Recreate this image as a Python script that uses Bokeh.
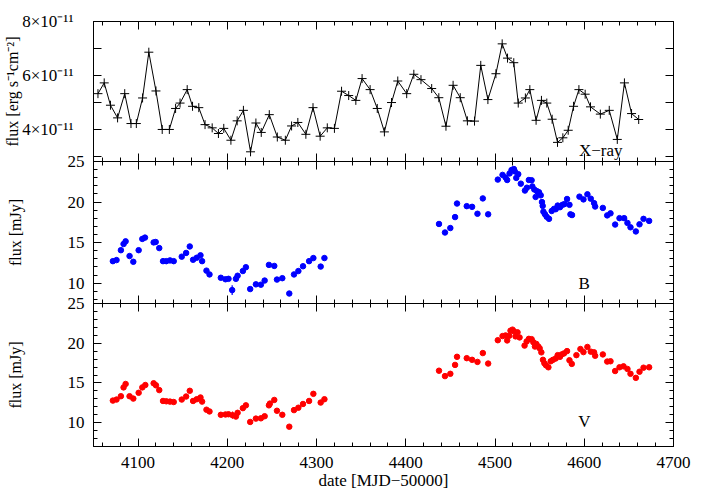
from bokeh.plotting import figure
from bokeh.models import LinearAxis, FixedTicker, Label, Range1d
from bokeh.layouts import column
from bokeh.embed import file_html
from bokeh.resources import INLINE
import numpy as np

FONT = "Liberation Serif"

# X-ray flux, units of 1e-11 erg s^-1 cm^-2
xray_date = [4055, 4062, 4069, 4077, 4085, 4092, 4098, 4105, 4112, 4120, 4127, 4135, 4142, 4147,
             4155, 4161, 4168, 4175, 4183, 4190, 4196, 4204, 4211, 4218, 4226, 4232, 4238, 4247,
             4256, 4265, 4272, 4279, 4288, 4296, 4304, 4312, 4320, 4328, 4336, 4344, 4351, 4360,
             4368, 4376, 4384, 4391, 4401, 4409, 4417, 4429, 4437, 4445, 4453, 4461, 4469, 4477,
             4484, 4492, 4501, 4508, 4514, 4521, 4526, 4534, 4539, 4546, 4552, 4558, 4564, 4570,
             4576, 4582, 4588, 4594, 4601, 4607, 4618, 4628, 4637, 4645, 4653, 4661]
xray_flux = [5.32, 5.72, 4.89, 4.42, 5.32, 4.21, 4.21, 5.16, 6.86, 5.42, 3.99, 3.99, 4.77, 4.97,
             5.47, 4.85, 4.80, 4.17, 4.05, 3.84, 4.03, 3.59, 4.31, 4.70, 3.16, 4.23, 3.88, 4.54,
             3.71, 3.59, 4.12, 4.25, 3.81, 4.80, 3.74, 4.05, 4.03, 5.41, 5.25, 5.07, 5.88, 5.47,
             4.77, 3.90, 4.99, 5.79, 5.32, 6.04, 5.84, 5.51, 5.17, 4.11, 5.63, 5.17, 4.31, 4.30,
             6.37, 5.10, 6.06, 7.17, 6.64, 6.47, 4.97, 5.16, 5.47, 4.33, 5.07, 4.97, 4.37, 3.51,
             3.68, 3.96, 4.85, 5.47, 5.30, 4.83, 4.56, 4.70, 3.62, 5.72, 4.58, 4.36]

# B band flux [mJy]
b_date = [4071.7, 4075.8, 4080.7, 4083.7, 4086.0, 4090.4, 4094.6, 4100.6, 4104.7, 4107.7, 4117.4,
          4119.7, 4123.7, 4127.9, 4131.6, 4135.7, 4139.9, 4148.9, 4153.8, 4157.9, 4161.6, 4165.7,
          4169.9, 4171.7, 4176.6, 4180.0, 4192.7, 4197.9, 4201.3, 4205.4, 4209.6, 4211.5, 4217.4,
          4220.8, 4225.6, 4232.0, 4237.6, 4241.8, 4246.6, 4252.6, 4255.6, 4261.6, 4269.4, 4274.7,
          4279.6, 4284.8, 4291.6, 4296.4, 4304.6, 4308.8,
          4437.2, 4443.9, 4449.9, 4455.2, 4457.4, 4468.3, 4474.3, 4480.3, 4486.3, 4492.3, 4503.1,
          4508.4, 4511.8, 4513.6, 4516.3, 4518.5, 4521.1, 4522.2, 4523.8, 4526.0, 4528.9, 4533.5,
          4535.7, 4537.9, 4541.0, 4541.8, 4544.0, 4545.5, 4547.0, 4549.3, 4551.2, 4552.6, 4553.4,
          4554.2, 4556.0, 4557.9, 4560.5, 4563.5, 4566.1, 4568.0, 4570.2, 4572.8, 4575.5, 4577.8,
          4580.7, 4583.4, 4584.5, 4586.3, 4594.6, 4599.1, 4603.5, 4607.3, 4611.0, 4612.2, 4620.8,
          4625.7, 4629.4, 4634.6, 4639.5, 4644.7, 4648.4, 4651.8, 4657.8, 4661.9, 4666.4, 4672.7]
b_flux = [12.72, 12.85, 14.07, 14.83, 15.16, 13.35, 12.64, 14.07, 15.46, 15.62, 15.03,
          15.08, 14.33, 12.72, 12.72, 12.81, 12.72, 13.27, 13.73, 14.53, 12.89, 13.14,
          13.44, 12.72, 11.55, 11.08, 10.67, 10.49, 10.54, 9.15, 10.54, 10.92, 11.50,
          11.97, 9.28, 9.86, 9.82, 10.33, 12.26, 12.13, 10.45, 10.62, 8.73, 11.08,
          11.50, 12.09, 12.72, 13.10, 12.05, 13.10,
          17.30, 16.25, 16.80, 18.15, 19.82, 19.50, 19.41, 18.56, 20.45, 18.49, 22.77,
          23.35, 23.03, 22.72, 23.53, 23.95, 24.07, 23.78, 22.98, 23.44, 22.27, 21.42,
          21.77, 22.72, 22.69, 21.93, 21.55, 20.63, 21.34, 21.21, 20.83, 20.00, 19.53,
          18.82, 18.49, 18.18, 17.93, 18.90, 19.16, 19.12, 19.57, 19.37, 19.66, 19.75,
          20.38, 19.66, 18.49, 18.40, 20.67, 20.33, 20.96, 20.42, 19.87, 19.45, 19.28,
          18.36, 18.61, 17.23, 18.02, 18.02, 17.43, 16.89, 16.38, 17.26, 17.93, 17.68]
b_err_date = [4205.4]
b_err_flux = [9.15]
b_err = [0.6]

# V band flux [mJy]
v_date = [4071.7, 4075.8, 4080.7, 4083.7, 4086.0, 4090.4, 4094.6, 4100.6, 4104.7, 4108.1, 4117.4,
          4120.0, 4123.7, 4127.9, 4131.6, 4135.7, 4139.9, 4148.9, 4153.8, 4157.9, 4161.6, 4165.7,
          4169.9, 4171.7, 4176.6, 4180.0, 4192.7, 4197.9, 4201.3, 4205.8, 4209.6, 4211.5, 4217.4,
          4220.8, 4225.6, 4232.0, 4237.6, 4241.8, 4246.6, 4247.7, 4252.6, 4255.6, 4261.6, 4269.4,
          4274.7, 4279.6, 4284.8, 4291.6, 4296.4, 4304.6, 4308.8,
          4437.2, 4443.9, 4449.9, 4455.2, 4457.4, 4468.3, 4474.3, 4480.3, 4486.3, 4492.3, 4503.1,
          4508.4, 4511.8, 4513.6, 4515.9, 4517.3, 4519.6, 4521.1, 4523.0, 4525.2, 4527.5, 4533.1,
          4535.4, 4537.9, 4541.0, 4542.9, 4544.7, 4546.3, 4548.5, 4550.0, 4551.9, 4553.7, 4555.3,
          4557.1, 4559.8, 4562.4, 4564.9, 4568.0, 4570.2, 4572.8, 4574.7, 4577.3, 4580.7, 4583.4,
          4586.0, 4591.2, 4595.7, 4599.1, 4603.5, 4607.3, 4611.0, 4612.2, 4620.8, 4625.7, 4629.4,
          4634.6, 4639.5, 4644.0, 4648.4, 4651.8, 4657.8, 4661.9, 4666.4, 4672.7]
v_flux = [12.78, 12.91, 13.33, 14.44, 14.87, 13.33, 13.03, 13.76, 14.44, 14.74, 14.96,
          14.70, 14.10, 12.73, 12.69, 12.65, 12.60, 12.91, 13.29, 14.01, 12.73, 12.95,
          13.17, 12.65, 11.63, 11.41, 10.99, 11.03, 11.06, 10.94, 10.77, 11.24, 11.83,
          12.18, 10.09, 10.51, 10.55, 10.81, 12.18, 12.40, 12.86, 11.50, 10.99, 9.49,
          11.58, 11.88, 12.35, 12.73, 13.63, 12.53, 12.95,
          16.54, 15.86, 16.15, 17.27, 18.29, 18.12, 17.91, 17.65, 18.76, 17.44, 20.38,
          20.90, 20.98, 20.35, 20.94, 21.58, 21.71, 21.50, 20.86, 21.37, 20.73, 19.70,
          20.22, 20.55, 20.51, 20.13, 19.58, 19.91, 19.58, 19.36, 18.85, 17.91, 17.48,
          17.22, 16.97, 17.73, 17.91, 18.08, 18.50, 18.29, 18.59, 18.72, 19.01, 17.86,
          17.40, 18.50, 19.27, 18.88, 19.53, 18.94, 18.85, 18.42, 18.59, 17.69, 17.73,
          16.50, 16.97, 17.09, 16.76, 16.15, 15.64, 16.41, 16.92, 16.97]
v_err_date = [4205.8]
v_err_flux = [10.94]
v_err = [0.45]

x_major = [4100, 4200, 4300, 4400, 4500, 4600, 4700]
x_minor = list(range(4060, 4701, 20))
xray_ticks = [3, 4, 5, 6, 7, 8]
xray_tick_labels = {3: "", 4: "4×10⁻¹¹", 5: "", 6: "6×10⁻¹¹", 7: "", 8: "8×10⁻¹¹"}
mjy_major = [10, 15, 20, 25]
mjy_minor = list(range(7, 26))

x_range = Range1d(4050, 4700)
FW = 580
GAP = 12  # fixed border above / below the inner panel edges, overlapped away
LEFT = 93


def style_axis(ax, labels=False, size="17px"):
    ax.major_tick_in = 8
    ax.major_tick_out = 0
    ax.minor_tick_in = 4
    ax.minor_tick_out = 0
    ax.major_tick_line_color = "black"
    ax.minor_tick_line_color = "black"
    ax.axis_line_color = "black"
    ax.major_label_text_font = FONT
    ax.axis_label_text_font = FONT
    ax.axis_label_text_font_style = "normal"
    ax.axis_label_text_color = "black"
    if labels:
        ax.major_label_text_font_size = size
        ax.major_label_text_color = "black"
    else:
        ax.major_label_text_color = None
        ax.major_label_standoff = 0
        ax.axis_label = None


def make_panel(y0, y1, fh, top, bottom, yticker, ylabel, ystandoff, lblstandoff, overrides=None,
               xlabels=False):
    p = figure(output_backend="svg", toolbar_location=None, frame_width=FW, frame_height=fh,
               x_range=x_range, y_range=Range1d(y0, y1), x_axis_location=None,
               y_axis_location=None, min_border_left=LEFT, min_border_right=20,
               min_border_top=top, min_border_bottom=bottom)
    p.grid.grid_line_color = None
    p.outline_line_color = "black"
    p.outline_line_width = 1
    p.background_fill_color = "white"
    p.border_fill_color = None
    xt = FixedTicker(ticks=x_major, minor_ticks=x_minor)
    la = LinearAxis(ticker=yticker, axis_label=ylabel)
    style_axis(la, labels=True)
    la.major_label_standoff = ystandoff
    la.axis_label_standoff = lblstandoff
    la.axis_label_text_font_size = "16px"
    if overrides:
        la.major_label_overrides = overrides
    p.add_layout(la, "left")
    ra = LinearAxis(ticker=yticker)
    style_axis(ra)
    p.add_layout(ra, "right")
    ta = LinearAxis(ticker=xt)
    style_axis(ta)
    p.add_layout(ta, "above")
    ba = LinearAxis(ticker=xt)
    if xlabels:
        style_axis(ba, labels=True)
        ba.major_label_standoff = 10
        ba.axis_label = "date [MJD−50000]"
        ba.axis_label_standoff = 0
        ba.axis_label_text_font_size = "17px"
    else:
        style_axis(ba)
    p.add_layout(ba, "below")
    return p


p1 = make_panel(2.8, 8.0, 140, 21, GAP, FixedTicker(ticks=xray_ticks, minor_ticks=[]),
                "flux [erg s⁻¹cm⁻²]", 20, -2, overrides=xray_tick_labels)
p1.line(xray_date, xray_flux, line_color="black", line_width=1)
p1.scatter(xray_date, xray_flux, marker="cross", size=9, line_color="black", line_width=1)
p1.add_layout(Label(x=4594, y=3.2, text="X−ray", text_baseline="middle", text_font=FONT,
                    text_font_size="17px", text_color="black"))

p2 = make_panel(7.5, 25, 142, GAP, GAP, FixedTicker(ticks=mjy_major, minor_ticks=mjy_minor),
                "flux [mJy]", 9, 41)
p2.margin = (-2 * GAP, 0, 0, 0)
bd = np.array(b_err_date); bf = np.array(b_err_flux); be = np.array(b_err)
p2.segment(bd, bf - be, bd, bf + be, line_color="#0000ff", line_width=1.2)
p2.scatter(b_date, b_flux, size=5.5, fill_color="#0000ff", line_color="#0000ff")
p2.add_layout(Label(x=4600, y=10, text="B", text_align="center", text_baseline="middle",
                    text_font=FONT, text_font_size="17px", text_color="black"))

p3 = make_panel(7, 25, 143, GAP, 44, FixedTicker(ticks=mjy_major, minor_ticks=mjy_minor),
                "flux [mJy]", 9, 41, xlabels=True)
p3.margin = (-2 * GAP, 0, 0, 0)
vd = np.array(v_err_date); vf = np.array(v_err_flux); ve = np.array(v_err)
p3.segment(vd, vf - ve, vd, vf + ve, line_color="#ff0000", line_width=1.2)
p3.scatter(v_date, v_flux, size=5.5, fill_color="#ff0000", line_color="#ff0000")
p3.add_layout(Label(x=4600, y=10.1, text="V", text_align="center", text_baseline="middle",
                    text_font=FONT, text_font_size="17px", text_color="black"))

layout = column(p1, p2, p3, spacing=0)
open("out.html", "w").write(file_html(layout, INLINE))
